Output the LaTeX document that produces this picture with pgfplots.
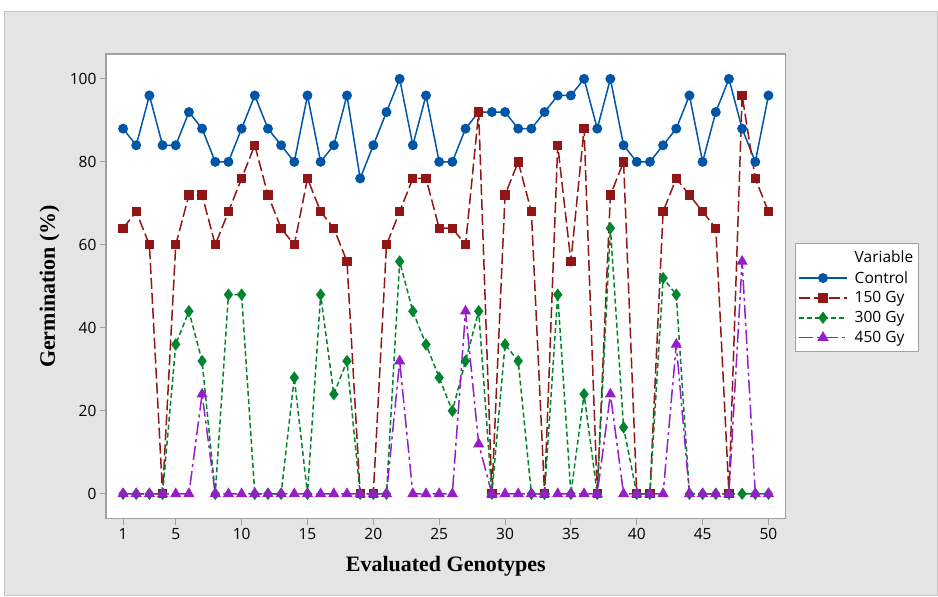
\documentclass[border=0pt]{standalone}
\usepackage{fontspec}
\setmainfont{Liberation Serif}
\newfontfamily\sans{Open Sans}
\usepackage{pgfplots}
\pgfplotsset{compat=1.18}
\definecolor{cctrl}{RGB}{0,86,166}
\definecolor{c150}{RGB}{145,22,22}
\definecolor{c300}{RGB}{0,132,45}
\definecolor{c450}{RGB}{150,30,200}
\definecolor{panel}{RGB}{228,228,228}
\definecolor{frame}{RGB}{160,160,160}

\pgfplotstableread{
g ctrl g150 g300 g450
1 88 64 0 0
2 84 68 0 0
3 96 60 0 0
4 84 0 0 0
5 84 60 36 0
6 92 72 44 0
7 88 72 32 24
8 80 60 0 0
9 80 68 48 0
10 88 76 48 0
11 96 84 0 0
12 88 72 0 0
13 84 64 0 0
14 80 60 28 0
15 96 76 0 0
16 80 68 48 0
17 84 64 24 0
18 96 56 32 0
19 76 0 0 0
20 84 0 0 0
21 92 60 0 0
22 100 68 56 32
23 84 76 44 0
24 96 76 36 0
25 80 64 28 0
26 80 64 20 0
27 88 60 32 44
28 92 92 44 12
29 92 0 0 0
30 92 72 36 0
31 88 80 32 0
32 88 68 0 0
33 92 0 0 0
34 96 84 48 0
35 96 56 0 0
36 100 88 24 0
37 88 0 0 0
38 100 72 64 24
39 84 80 16 0
40 80 0 0 0
41 80 0 0 0
42 84 68 52 0
43 88 76 48 36
44 96 72 0 0
45 80 68 0 0
46 92 64 0 0
47 100 0 0 0
48 88 96 0 56
49 80 76 0 0
50 96 68 0 0
}\data

\begin{document}
\begin{tikzpicture}[x=1pt,y=1pt]
\fill[white] (0,0) rectangle (938,596);
\filldraw[fill=panel,draw=gray!45,line width=1pt] (4.5,0) rectangle (938,584);
\begin{axis}[
  at={(106pt,77pt)}, anchor=south west,
  scale only axis, width=680pt, height=465pt,
  xmin=-0.3, xmax=51.3, ymin=-6, ymax=106,
  xtick={1,5,10,15,20,25,30,35,40,45,50},
  ytick={0,20,40,60,80,100},
  axis background/.style={fill=white},
  axis line style={frame,line width=1.4pt},
  tick style={frame,line width=1pt},
  tick align=outside, major tick length=6pt,
  xtick pos=bottom, ytick pos=left,
  /pgf/number format/assume math mode=true,
  tick label style={font=\sans\fontsize{15.5}{18}\selectfont},
  xlabel={\bfseries Evaluated Genotypes},
  ylabel={\bfseries Germination (\%)},
  label style={font=\fontsize{22}{26}\selectfont},
  xlabel style={at={(axis description cs:0.5,0)},anchor=center,yshift=-48pt},
  ylabel style={at={(axis description cs:-0.083,0.5)},anchor=center},
  legend cell align=left,
  legend style={at={(rel axis cs:1.0135,0.594)},anchor=north west,
    draw=frame,line width=1pt,fill=white,
    font=\sans\fontsize{15.5}{18}\selectfont,
    inner xsep=3pt,inner ysep=6pt,row sep=3pt,column sep=5pt},
  legend image code/.code={%
    \draw[line width=1.5pt,mark repeat=2,mark phase=2] plot coordinates {(0pt,0pt) (24pt,0pt) (48pt,0pt)};},
  every axis plot/.append style={line width=1.5pt},
]
\addlegendimage{empty legend}
\addlegendentry{Variable}
\addplot[cctrl,solid,mark=*,mark size=4.2pt,mark options={solid}] table[x=g,y=ctrl] {\data};
\addlegendentry{Control}
\addplot[c150,dash pattern=on 11pt off 4pt,mark=square*,mark size=3.9pt,mark options={solid}] table[x=g,y=g150] {\data};
\addlegendentry{150 Gy}
\addplot[c300,dash pattern=on 5pt off 3pt,mark=diamond*,mark size=5pt,mark options={solid}] table[x=g,y=g300] {\data};
\addlegendentry{300 Gy}
\addplot[c450,dash pattern=on 14pt off 4pt on 3pt off 4pt,mark=triangle*,mark size=5pt,mark options={solid}] table[x=g,y=g450] {\data};
\addlegendentry{450 Gy}
\end{axis}
\end{tikzpicture}
\end{document}
